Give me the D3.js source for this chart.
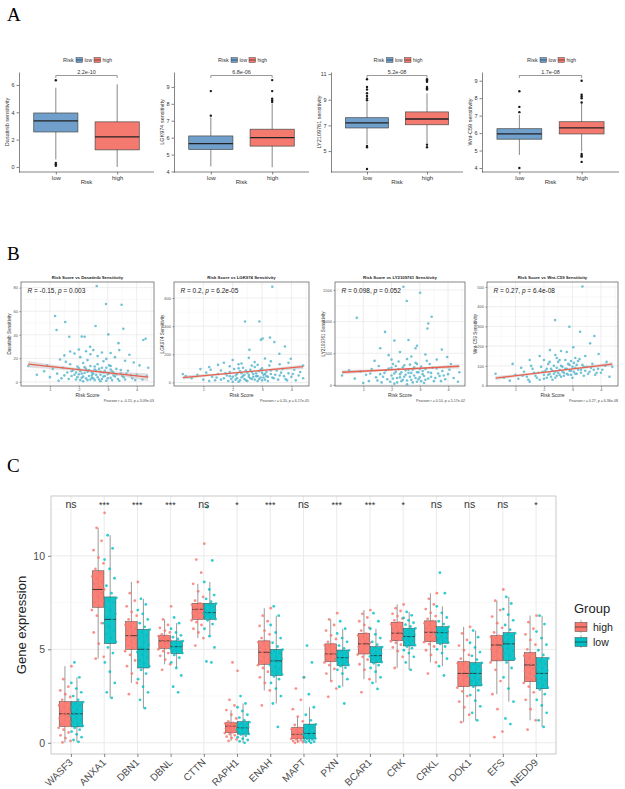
<!DOCTYPE html>
<html>
<head>
<meta charset="utf-8">
<script src="https://cdn.jsdelivr.net/npm/d3@7"></script>
<style>
  body { margin: 0; background: #fff; }
  text { font-family: "Liberation Sans", Arial, sans-serif; }
</style>
</head>
<body>
<div id="fig"></div>
<script>
// ---------- panel A : drug sensitivity by risk group ----------
var riskGroups = ["low", "high"];
var drugNames = ["Dasatinib", "LGK974", "LY2109761", "Wnt-C59"];
var pValuesA = ["2.2e-10", "6.8e-06", "5.2e-08", "1.7e-08"];
// [whiskerLow, q1, median, q3, whiskerHigh]
var lowStatsA = [[0.55, 2.56, 3.37, 3.95, 5.8], [4.3, 5.3, 5.65, 6.1, 7.2], [5.55, 6.8, 7.2, 7.6, 8.8], [4.75, 5.65, 5.95, 6.25, 7.05]];
var highStatsA = [[0, 1.25, 2.2, 3.3, 6.05], [4.25, 5.5, 6.0, 6.5, 8.0], [5.6, 7.05, 7.5, 8.05, 9.5], [4.95, 5.95, 6.3, 6.65, 7.7]];
var lowOutA = [[6.35, 0.3, 0.2, 0.08], [7.3, 8.75], [8.95, 9.1, 9.3, 9.5, 9.8, 10.0, 10.6, 5.4, 5.3, 3.6], [7.2, 7.5, 8.4, 4.0]];
var highOutA = [[], [8.1, 8.2, 8.3, 8.75, 9.4], [9.8, 9.9, 10.0, 10.4, 10.5, 10.6, 5.5, 5.3], [7.75, 8.0, 8.1, 8.2, 9.0, 4.8, 4.7, 4.65, 4.35]];
var yTicksA = [[0, 2, 4, 6], [4, 5, 6, 7, 8, 9], [5, 7, 9, 11], [4, 5, 6, 7, 8, 9]];
var yDomA = [[-0.37, 6.95], [3.97, 9.88], [3.37, 11.16], [3.77, 9.5]];

// ---------- panel B : risk score vs sensitivity ----------
var xTicksB = [1, 2, 3, 4];
var yTicksB = [[0, 20, 40, 60, 80], [0, 200, 400, 600], [0, 500, 1000, 1500], [0, 100, 200, 300, 400, 500]];
var yDomB = [[-3.5, 84.8], [-25, 714], [-17, 1626], [-2, 525]];
var corrLabelB = [["-0.15", "0.003"], ["0.2", "6.2e-05"], ["0.098", "0.052"], ["0.27", "6.4e-08"]];
var pearsonB = ["Pearson r = -0.15, p = 3.09e-03", "Pearson r = 0.20, p = 6.17e-05", "Pearson r = 0.10, p = 5.17e-02", "Pearson r = 0.27, p = 6.36e-08"];
// fitted value at left / right end of the data
var fitB = [[15, 4], [35, 112], [200, 295], [38, 109]];
// confidence band half width at left / middle / right
var ciB = [[2.8, 1.2, 3.2], [14, 6, 16], [32, 14, 36], [10, 4, 11]];

var scoreDasatinib = [[2.62,81.4],[2.94,66.1],[3.48,65.5],[1.18,55.9],[1.53,50.8],[1.23,44],[2.58,47.4],[3.54,45.1],[1.67,38.3],[2.1,38.5],[2.2,38.3],[3.02,40.3],[4.23,35.5],[4.31,36.6],[3.37,32.9],[2.39,29.8],
  [0.25,13.5],[0.9,14],[1.35,19],[1.5,22.5],[1.7,25.8],[1.85,24],[2.0,27.5],[2.05,21],[2.25,26],[2.4,23.5],[2.5,27],[2.65,22],[2.8,25],[2.95,19.5],[3.1,24.5],[3.25,21],[3.4,27],[3.6,18],[3.75,23],[3.9,16.5],[4.1,14],[4.4,12],
  [0.55,6],[0.8,9],[1.0,4],[1.1,11],[1.25,7],[1.4,3],[1.45,12],[1.6,8],[1.7,15],[1.75,5],[1.8,10],[1.9,2],[1.95,13],[2.0,6.5],[2.05,9],[2.1,3.5],[2.15,16],[2.2,7.5],[2.25,11],[2.3,1.5],[2.35,5],[2.4,13.5],[2.45,8],[2.5,3],[2.55,10.5],[2.6,6],[2.65,15],[2.7,2],[2.75,8.5],[2.8,12],[2.85,4.5],[2.9,9.5],[2.95,1],[3.0,6.5],[3.05,14],[3.1,3.5],[3.15,9],[3.2,5.5],[3.3,11],[3.35,2.5],[3.45,7],[3.55,4],[3.7,9.5],[3.85,3],[4.0,6],[4.2,2],[4.35,5],[1.55,17],[2.3,18.5],[2.85,17.5],
  [1.3,1],[1.5,5.5],[1.65,2.5],[1.75,9],[1.85,6],[1.95,4],[2.0,11.5],[2.05,1.5],[2.1,7],[2.15,4.5],[2.2,12.5],[2.25,3],[2.3,8.5],[2.35,10],[2.4,2],[2.45,5.5],[2.5,7],[2.55,1.5],[2.6,9.5],[2.65,4],[2.7,11],[2.75,6],[2.8,2.5],[2.85,8],[2.9,5],[2.95,12],[3.0,3],[3.05,7.5],[3.1,10.5],[3.15,1.5],[3.2,8],[3.25,4.5],[3.3,6.5],[3.4,1],[3.45,10],[3.5,5],[3.6,2],[3.65,7],[3.8,5.5],[3.95,1.5],[2.15,0.5],[2.55,13],[2.75,0.5],[3.1,13.5],[1.9,8],[2.45,3.5]];
var scoreLGK974 = [[3.35,680],[2.42,433],[2.91,433],[2.96,303],[3.02,312],[3.27,319],[3.42,287],[3.78,256],[2.57,232],[3.59,204],[3.98,169],[2.0,160],[2.55,175],[3.1,170],[1.7,140],[1.2,110],[0.9,95],[0.3,60],[4.3,75],[4.4,120],[4.1,90],[3.9,140],[3.6,130],[3.3,150],[2.75,145],[2.2,130],[1.9,115],[1.5,125],
  [0.6,30],[0.8,55],[1.0,20],[1.1,70],[1.3,40],[1.4,15],[1.5,60],[1.6,85],[1.7,30],[1.8,50],[1.85,10],[1.9,75],[2.0,40],[2.05,95],[2.1,20],[2.15,60],[2.2,5],[2.25,80],[2.3,35],[2.35,105],[2.4,55],[2.45,15],[2.5,70],[2.55,40],[2.6,90],[2.65,25],[2.7,60],[2.75,110],[2.8,45],[2.85,10],[2.9,80],[2.95,35],[3.0,100],[3.05,55],[3.1,20],[3.15,75],[3.2,40],[3.25,120],[3.3,60],[3.4,30],[3.5,85],[3.6,50],[3.7,95],[3.8,25],[3.9,65],[4.0,40],[4.15,15],[4.25,50],[4.4,30],[0.4,45],[1.25,90],[2.3,135],[2.85,125],
  [1.2,10],[1.45,35],[1.6,20],[1.75,65],[1.95,25],[2.0,5],[2.1,50],[2.15,30],[2.25,15],[2.3,65],[2.35,45],[2.4,25],[2.45,85],[2.5,10],[2.55,55],[2.6,30],[2.65,75],[2.7,40],[2.75,20],[2.8,65],[2.85,45],[2.9,25],[2.95,90],[3.0,15],[3.05,35],[3.1,60],[3.15,45],[3.2,10],[3.3,85],[3.35,35],[3.45,55],[3.55,20],[3.65,70],[3.75,45],[3.85,15],[4.05,60],[2.2,100],[2.65,120],[3.0,70],[1.9,45]];
var scoreLY2109761 = [[2.42,1552],[3.01,1457],[2.54,1325],[0.77,1060],[3.42,1076],[3.3,970],[3.27,892],[1.77,838],[2.1,700],[2.6,710],[2.9,620],[1.6,580],[2.85,580],[3.78,560],[3.97,440],[2.3,520],[1.9,470],[3.2,480],[2.7,450],[1.4,380],[3.6,400],[4.1,330],[0.5,230],[4.4,200],[0.25,150],
  [0.7,100],[0.9,210],[1.1,160],[1.2,60],[1.3,250],[1.45,120],[1.55,300],[1.65,40],[1.75,190],[1.85,90],[1.9,260],[2.0,150],[2.05,330],[2.1,20],[2.15,210],[2.2,110],[2.25,370],[2.3,170],[2.35,60],[2.4,280],[2.45,130],[2.5,230],[2.55,10],[2.6,190],[2.65,320],[2.7,80],[2.75,240],[2.8,150],[2.85,350],[2.9,50],[2.95,200],[3.0,120],[3.05,290],[3.1,170],[3.15,30],[3.2,250],[3.3,100],[3.35,330],[3.4,190],[3.5,60],[3.6,260],[3.7,140],[3.8,220],[3.9,90],[4.0,170],[4.2,110],[4.35,50],[1.0,30],[2.0,400],[2.55,410],[3.25,380],
  [1.25,180],[1.5,70],[1.7,130],[1.8,230],[1.95,50],[2.0,270],[2.05,100],[2.1,180],[2.2,40],[2.25,250],[2.3,120],[2.35,200],[2.4,80],[2.45,310],[2.5,160],[2.55,70],[2.6,240],[2.65,130],[2.7,190],[2.75,40],[2.8,280],[2.85,110],[2.9,200],[2.95,90],[3.0,250],[3.05,60],[3.1,220],[3.15,140],[3.2,80],[3.3,200],[3.4,130],[3.45,270],[3.55,110],[3.65,180],[3.75,60],[3.85,150],[4.05,240],[2.15,300],[2.9,330],[1.6,170]];
var scoreWntC59 = [[3.35,502],[2.39,332],[2.89,298],[3.27,273],[3.77,251],[3.62,214],[3.03,194],[2.21,180],[2.6,175],[3.92,160],[2.8,170],[1.85,150],[3.45,150],[1.5,130],[3.1,140],[4.2,120],[0.9,110],[0.3,60],[4.4,95],[2.4,155],
  [0.6,40],[0.8,25],[1.0,55],[1.1,35],[1.3,70],[1.4,45],[1.5,20],[1.6,85],[1.7,50],[1.8,65],[1.85,30],[1.9,95],[2.0,55],[2.05,75],[2.1,40],[2.15,110],[2.2,60],[2.25,85],[2.3,30],[2.35,100],[2.4,70],[2.45,50],[2.5,120],[2.55,80],[2.6,45],[2.65,95],[2.7,65],[2.75,130],[2.8,85],[2.85,55],[2.9,105],[2.95,75],[3.0,40],[3.05,115],[3.1,90],[3.15,60],[3.2,125],[3.3,80],[3.35,105],[3.4,50],[3.5,95],[3.6,70],[3.7,110],[3.8,55],[3.9,85],[4.0,65],[4.15,100],[4.3,45],[1.2,90],[2.0,130],[2.45,140],[3.25,135],
  [1.25,50],[1.45,30],[1.65,65],[1.75,40],[1.95,70],[2.0,35],[2.1,85],[2.15,55],[2.25,45],[2.3,75],[2.35,60],[2.4,40],[2.45,90],[2.5,65],[2.55,55],[2.6,100],[2.65,70],[2.7,50],[2.75,85],[2.8,60],[2.85,110],[2.9,75],[2.95,55],[3.0,95],[3.05,70],[3.1,60],[3.15,105],[3.2,80],[3.3,65],[3.4,95],[3.45,75],[3.55,60],[3.65,90],[3.75,80],[3.85,65],[4.05,80],[2.2,120],[2.55,130],[2.95,125],[1.55,100]];
var pointsB = [scoreDasatinib, scoreLGK974, scoreLY2109761, scoreWntC59];

// ---------- panel C : gene expression by group ----------
var genes = ["WASF3","ANXA1","DBN1","DBNL","CTTN","RAPH1","ENAH","MAPT","PXN","BCAR1","CRK","CRKL","DOK1","EFS","NEDD9"];
var sigLabels = ["ns","***","***","***","ns","*","***","ns","***","***","*","ns","ns","ns","*"];
var groupsC = ["high", "low"];
// [q1, median, q3]
var highQuart = [[0.87,1.55,2.2],[7.25,8.2,9.2],[5.0,5.73,6.48],[5.05,5.45,5.73],[6.6,7.14,7.46],[0.54,0.89,1.07],[4.2,4.84,5.45],[0.23,0.45,0.82],[4.34,4.75,5.29],[4.75,5.29,5.86],[5.46,5.86,6.45],[5.41,5.91,6.52],[3.0,3.71,4.34],[4.38,5.23,5.73],[3.27,4.16,4.82]];
var lowQuart = [[0.85,1.55,2.2],[5.3,6.6,7.8],[4.0,5.0,6.07],[4.77,5.14,5.45],[6.6,6.96,7.46],[0.46,0.8,1.13],[3.6,4.38,5.0],[0.21,0.5,1.0],[4.13,4.55,4.96],[4.29,4.66,5.14],[5.18,5.68,6.13],[5.32,5.89,6.21],[3.04,3.71,4.29],[4.39,5.29,5.89],[2.89,3.71,4.55]];
var highValues = [
  "0.02 0.1 0.25 0.4 0.55 0.7 0.8 0.9 1.0 1.1 1.2 1.3 1.4 1.5 1.55 1.6 1.7 1.8 1.9 2.0 2.15 2.3 2.45 2.6 2.8 3.0 3.4 4.1",
  "4.5 4.6 5.3 5.9 6.4 6.8 7.1 7.3 7.5 7.6 7.8 7.9 8.0 8.1 8.2 8.3 8.5 8.6 8.8 8.9 9.1 9.3 9.6 9.9 10.3 10.8 11.5 12.3",
  "2.6 3.2 3.7 4.1 4.4 4.7 4.9 5.05 5.2 5.3 5.4 5.5 5.6 5.7 5.8 5.9 6.0 6.1 6.2 6.3 6.45 6.6 6.8 7.0 7.3 7.6 8.0 8.6",
  "3.9 4.2 4.45 4.65 4.8 4.9 5.0 5.08 5.15 5.2 5.25 5.3 5.35 5.4 5.45 5.5 5.55 5.6 5.65 5.7 5.72 5.8 5.9 6.0 6.15 6.3 6.6 7.3",
  "5.2 5.6 5.9 6.1 6.3 6.45 6.55 6.65 6.75 6.85 6.9 6.95 7.0 7.05 7.1 7.15 7.2 7.25 7.3 7.38 7.45 7.6 7.8 8.1 8.5 9.1 9.8 10.65",
  "0.1 0.18 0.26 0.33 0.4 0.46 0.52 0.56 0.62 0.68 0.72 0.76 0.8 0.85 0.89 0.92 0.95 0.98 1.0 1.03 1.06 1.15 1.3 1.5 1.75 2.0 2.3 3.85 4.3",
  "2.0 2.8 3.2 3.5 3.8 4.0 4.15 4.25 4.35 4.45 4.55 4.65 4.75 4.84 4.9 5.0 5.1 5.2 5.3 5.38 5.44 5.6 5.8 6.0 6.25 6.5 6.8 7.2",
  "0 0.03 0.07 0.1 0.14 0.18 0.21 0.25 0.28 0.31 0.34 0.37 0.4 0.43 0.46 0.5 0.55 0.6 0.66 0.72 0.8 0.95 1.15 1.4 1.8 2.3 2.9 3.5",
  "2.46 2.9 3.3 3.7 3.95 4.15 4.3 4.38 4.45 4.52 4.6 4.66 4.72 4.76 4.82 4.9 4.98 5.06 5.14 5.22 5.28 5.4 5.55 5.75 6.0 6.3 6.6 6.93",
  "2.7 3.4 3.9 4.2 4.45 4.6 4.72 4.8 4.88 4.96 5.04 5.12 5.2 5.29 5.35 5.42 5.5 5.58 5.66 5.75 5.84 6.0 6.15 6.3 6.5 6.7 6.9 7.1",
  "4.0 4.6 4.9 5.1 5.25 5.35 5.43 5.5 5.56 5.62 5.68 5.74 5.8 5.86 5.92 6.0 6.08 6.16 6.25 6.34 6.43 6.55 6.65 6.78 6.9 7.05 7.2 7.4",
  "3.7 4.3 4.7 4.95 5.15 5.28 5.38 5.45 5.52 5.6 5.68 5.76 5.84 5.91 5.98 6.06 6.14 6.22 6.3 6.4 6.5 6.62 6.78 6.95 7.15 7.4 7.7 8.0",
  "1.1 1.5 1.9 2.2 2.5 2.75 2.95 3.05 3.15 3.25 3.35 3.45 3.55 3.65 3.75 3.85 3.95 4.05 4.15 4.25 4.32 4.5 4.7 4.95 5.2 5.5 5.85 6.2",
  "0.3 0.6 1.8 2.6 3.3 3.9 4.3 4.45 4.6 4.75 4.88 5.0 5.1 5.2 5.28 5.36 5.44 5.52 5.6 5.66 5.72 5.9 6.15 6.4 6.75 7.1 7.6 8.2",
  "0.7 1.2 1.8 2.3 2.7 3.0 3.2 3.35 3.48 3.6 3.72 3.84 3.96 4.08 4.16 4.24 4.34 4.44 4.54 4.66 4.8 5.0 5.25 5.5 5.8 6.1 6.45 6.8"
];
var lowValues = [
  "0.05 0.15 0.3 0.45 0.6 0.7 0.8 0.9 1.0 1.1 1.2 1.35 1.45 1.55 1.6 1.7 1.8 1.9 2.0 2.1 2.18 2.3 2.5 2.7 2.9 3.2 3.5 4.3",
  "2.4 2.7 3.2 3.8 4.3 4.8 5.1 5.4 5.6 5.8 6.0 6.2 6.4 6.6 6.7 6.9 7.1 7.3 7.5 7.6 7.75 8.0 8.4 8.8 9.3 9.8 10.4 11.1",
  "1.85 2.3 2.7 3.0 3.4 3.7 3.9 4.1 4.25 4.4 4.55 4.7 4.85 5.0 5.1 5.25 5.4 5.6 5.75 5.9 6.05 6.2 6.4 6.6 6.9 7.1 7.4 7.7",
  "2.7 3.0 3.6 4.0 4.3 4.55 4.7 4.8 4.85 4.9 4.95 5.0 5.05 5.1 5.15 5.2 5.25 5.3 5.35 5.4 5.44 5.55 5.65 5.75 5.9 6.1 6.4 6.7",
  "4.3 4.35 5.1 5.7 6.1 6.35 6.55 6.62 6.7 6.78 6.82 6.88 6.92 6.96 7.0 7.08 7.15 7.22 7.3 7.38 7.44 7.55 7.7 7.9 8.2 8.6 9.75 12.6",
  "0 0.08 0.15 0.22 0.3 0.38 0.44 0.48 0.53 0.58 0.63 0.68 0.72 0.77 0.8 0.84 0.88 0.93 0.98 1.04 1.1 1.2 1.35 1.5 1.7 1.9 2.1 2.5",
  "0.85 2.1 2.5 2.9 3.2 3.4 3.55 3.65 3.75 3.85 3.95 4.05 4.15 4.3 4.4 4.5 4.6 4.7 4.8 4.9 4.98 5.15 5.35 5.6 5.9 6.3 6.8 7.3",
  "0 0.03 0.06 0.1 0.13 0.17 0.2 0.23 0.27 0.31 0.35 0.4 0.45 0.5 0.55 0.6 0.67 0.75 0.82 0.9 0.98 1.2 1.5 1.9 2.6 3.5 4.3 5.2",
  "2.1 3.0 3.4 3.7 3.9 4.02 4.1 4.16 4.22 4.28 4.34 4.4 4.46 4.52 4.56 4.62 4.68 4.74 4.8 4.87 4.94 5.05 5.2 5.4 5.6 5.85 6.1 6.5",
  "2.88 3.2 3.5 3.8 4.0 4.15 4.25 4.32 4.38 4.44 4.5 4.56 4.62 4.66 4.72 4.78 4.84 4.92 5.0 5.06 5.12 5.25 5.4 5.6 5.8 6.1 6.5 6.93",
  "3.9 4.3 4.6 4.8 4.95 5.06 5.15 5.22 5.28 5.34 5.42 5.5 5.58 5.66 5.72 5.78 5.84 5.9 5.98 6.05 6.12 6.22 6.32 6.42 6.55 6.68 6.82 7.0",
  "3.6 4.1 4.5 4.8 5.0 5.15 5.28 5.36 5.45 5.54 5.62 5.7 5.78 5.86 5.9 5.95 6.0 6.05 6.1 6.15 6.2 6.35 6.5 6.7 6.95 7.3 8.0 9.1",
  "1.2 1.6 1.95 2.25 2.55 2.8 3.0 3.1 3.2 3.3 3.4 3.5 3.6 3.7 3.78 3.86 3.94 4.02 4.1 4.18 4.27 4.45 4.65 4.85 5.1 5.35 5.65 6.0",
  "1.0 1.3 2.2 2.9 3.5 4.0 4.3 4.5 4.65 4.8 4.92 5.04 5.16 5.29 5.38 5.46 5.54 5.62 5.7 5.78 5.86 6.05 6.3 6.55 6.85 7.15 7.45 7.8",
  "0.85 1.2 1.6 2.0 2.3 2.6 2.85 2.95 3.08 3.2 3.32 3.44 3.56 3.68 3.76 3.86 3.98 4.1 4.22 4.36 4.52 4.7 4.95 5.25 5.6 5.95 6.35 6.8"
];

var svg = d3.select("#fig").append("svg")
    .attr("width", 625)
    .attr("height", 789);

var intFmt = d3.format("d");

function styleAxis(sel, fs, col, textCol) {
    sel.selectAll("path, line").attr("stroke", col).attr("stroke-width", 0.6);
    sel.selectAll("text").attr("font-size", fs).attr("fill", textCol || col);
}

// panel letters
[["A", 21], ["B", 260], ["C", 472]].forEach(function (p) {
    svg.append("text").attr("x", 7).attr("y", p[1])
        .style("font-family", "'Liberation Serif', 'DejaVu Serif', serif")
        .attr("font-size", 19).text(p[0]);
});

// ================= PANEL A =================
var riskColor = { low: "#6f9fca", high: "#f47a6f" };
var aLeft = [19, 174, 331, 482], aRight = [154, 309, 463, 619];
var aTop = 72, aBot = 172;

drugNames.forEach(function (drug, i) {
    var g = svg.append("g");
    var x = d3.scalePoint().domain(riskGroups).range([aLeft[i], aRight[i]]).padding(0.6);
    var y = d3.scaleLinear().domain(yDomA[i]).range([aBot, aTop]);
    var bw = x.step() * 0.72;
    var stats = [lowStatsA[i], highStatsA[i]];
    var outs = [lowOutA[i], highOutA[i]];

    riskGroups.forEach(function (grp, j) {
        var s = stats[j], cx = x(grp);
        g.append("line").attr("x1", cx).attr("x2", cx)
            .attr("y1", y(s[0])).attr("y2", y(s[4]))
            .attr("stroke", "#555").attr("stroke-width", 0.7);
        g.append("rect").attr("x", cx - bw / 2).attr("width", bw)
            .attr("y", y(s[3])).attr("height", y(s[1]) - y(s[3]))
            .attr("fill", riskColor[grp]).attr("stroke", "#4a4a4a").attr("stroke-width", 0.7);
        g.append("line").attr("x1", cx - bw / 2).attr("x2", cx + bw / 2)
            .attr("y1", y(s[2])).attr("y2", y(s[2]))
            .attr("stroke", "#222").attr("stroke-width", 1.3);
        g.selectAll(null).data(outs[j]).join("circle")
            .attr("cx", cx).attr("cy", function (d) { return y(d); })
            .attr("r", 1.2).attr("fill", "#1a1a1a");
    });

    var ya = g.append("g").attr("transform", "translate(" + aLeft[i] + ",0)")
        .call(d3.axisLeft(y).tickValues(yTicksA[i]).tickFormat(intFmt).tickSize(2.5).tickSizeOuter(0).tickPadding(2));
    styleAxis(ya, 5.5, "#333");
    var xa = g.append("g").attr("transform", "translate(0," + aBot + ")")
        .call(d3.axisBottom(x).tickSize(2.5).tickSizeOuter(0).tickPadding(1.5));
    xa.select(".domain").attr("d", "M" + aLeft[i] + ",0H" + aRight[i]);
    styleAxis(xa, 6, "#333");

    var cxm = (aLeft[i] + aRight[i]) / 2;
    g.append("text").attr("x", cxm).attr("y", 184).attr("text-anchor", "middle")
        .attr("font-size", 6).attr("fill", "#333").text("Risk");
    g.append("text").attr("transform", "translate(" + (aLeft[i] - 10) + "," + ((aTop + aBot) / 2) + ") rotate(-90)")
        .attr("text-anchor", "middle").attr("font-size", 5.5).attr("fill", "#333")
        .text(drug + " sensitivity");

    // comparison bracket
    var by = 75.5;
    g.append("path")
        .attr("d", "M" + x("low") + "," + (by + 2.5) + "V" + by + "H" + x("high") + "V" + (by + 2.5))
        .attr("fill", "none").attr("stroke", "#555").attr("stroke-width", 0.6);
    g.append("text").attr("x", (x("low") + x("high")) / 2).attr("y", by - 1.5)
        .attr("text-anchor", "middle").attr("font-size", 5.5).attr("fill", "#333").text(pValuesA[i]);

    // legend
    var ly = 60;
    g.append("text").attr("x", cxm - 23.5).attr("y", ly + 2).attr("font-size", 5.5).attr("fill", "#333").text("Risk");
    riskGroups.forEach(function (grp, j) {
        var kx = cxm + (j === 0 ? -10.5 : 7.5);
        g.append("rect").attr("x", kx).attr("y", ly - 2.5).attr("width", 6.5).attr("height", 5)
            .attr("fill", riskColor[grp]).attr("stroke", "#4a4a4a").attr("stroke-width", 0.5);
        g.append("line").attr("x1", kx).attr("x2", kx + 6.5).attr("y1", ly).attr("y2", ly)
            .attr("stroke", "#222").attr("stroke-width", 0.6);
        g.append("text").attr("x", kx + 8.5).attr("y", ly + 2).attr("font-size", 5)
            .attr("fill", "#333").text(grp);
    });
});

// ================= PANEL B =================
var bLeft = [21, 174, 335, 487], bRight = [154, 309, 465, 618];
var bTop = 282, bBot = 386;

drugNames.forEach(function (drug, i) {
    var g = svg.append("g");
    var x = d3.scaleLinear().domain([0, 4.6]).range([bLeft[i], bRight[i]]);
    var y = d3.scaleLinear().domain(yDomB[i]).range([bBot, bTop]);
    var yt = yTicksB[i];

    // minor + major grid
    var step = yt[1] - yt[0];
    var minorY = yt.map(function (t) { return t + step / 2; }).filter(function (t) { return t < yDomB[i][1]; });
    var minorX = [0.5, 1.5, 2.5, 3.5, 4.5];
    g.selectAll(null).data(minorY).join("line")
        .attr("x1", bLeft[i]).attr("x2", bRight[i]).attr("y1", y).attr("y2", y)
        .attr("stroke", "#f0f0f0").attr("stroke-width", 0.4);
    g.selectAll(null).data(minorX).join("line")
        .attr("y1", bTop).attr("y2", bBot).attr("x1", x).attr("x2", x)
        .attr("stroke", "#f0f0f0").attr("stroke-width", 0.4);
    g.selectAll(null).data(yt).join("line")
        .attr("x1", bLeft[i]).attr("x2", bRight[i]).attr("y1", y).attr("y2", y)
        .attr("stroke", "#e2e2e2").attr("stroke-width", 0.6);
    g.selectAll(null).data(xTicksB).join("line")
        .attr("y1", bTop).attr("y2", bBot).attr("x1", x).attr("x2", x)
        .attr("stroke", "#e2e2e2").attr("stroke-width", 0.6);

    // points
    g.selectAll(null).data(pointsB[i]).join("circle")
        .attr("cx", function (d) { return x(d[0]); })
        .attr("cy", function (d) { return y(d[1]); })
        .attr("r", 1.3).attr("fill", "#45aec8").attr("fill-opacity", 0.75);

    // fit with confidence band
    var ext = d3.extent(pointsB[i], function (d) { return d[0]; });
    var xm = (ext[0] + ext[1]) / 2;
    var f = fitB[i], c = ciB[i];
    var fm = (f[0] + f[1]) / 2;
    var band = [[ext[0], f[0], c[0]], [xm, fm, c[1]], [ext[1], f[1], c[2]]];
    g.append("path").datum(band)
        .attr("d", d3.area().curve(d3.curveNatural)
            .x(function (d) { return x(d[0]); })
            .y0(function (d) { return y(d[1] - d[2]); })
            .y1(function (d) { return y(d[1] + d[2]); }))
        .attr("fill", "#b5b5b5").attr("fill-opacity", 0.45);
    g.append("line")
        .attr("x1", x(ext[0])).attr("y1", y(f[0]))
        .attr("x2", x(ext[1])).attr("y2", y(f[1]))
        .attr("stroke", "#e8604f").attr("stroke-width", 1.3);

    // frame
    g.append("rect").attr("x", bLeft[i]).attr("y", bTop)
        .attr("width", bRight[i] - bLeft[i]).attr("height", bBot - bTop)
        .attr("fill", "none").attr("stroke", "#555").attr("stroke-width", 0.7);

    var ya = g.append("g").attr("transform", "translate(" + bLeft[i] + ",0)")
        .call(d3.axisLeft(y).tickValues(yt).tickFormat(intFmt).tickSize(1.5).tickSizeOuter(0).tickPadding(1.5));
    ya.select(".domain").remove();
    styleAxis(ya, 4, "#555");
    var xa = g.append("g").attr("transform", "translate(0," + bBot + ")")
        .call(d3.axisBottom(x).tickValues(xTicksB).tickFormat(intFmt).tickSize(1.5).tickSizeOuter(0).tickPadding(1));
    xa.select(".domain").remove();
    styleAxis(xa, 4, "#555");

    var cxm = (bLeft[i] + bRight[i]) / 2;
    g.append("text").attr("x", cxm).attr("y", bTop - 3.5).attr("text-anchor", "middle")
        .attr("font-size", 4.3).attr("font-weight", "bold").attr("fill", "#222")
        .text("Risk Score vs " + drug + " Sensitivity");
    g.append("text").attr("x", cxm).attr("y", 397).attr("text-anchor", "middle")
        .attr("font-size", 5).attr("fill", "#333").text("Risk Score");
    g.append("text").attr("transform", "translate(" + (bLeft[i] - 10) + "," + ((bTop + bBot) / 2) + ") rotate(-90)")
        .attr("text-anchor", "middle").attr("font-size", 4.6).attr("fill", "#333")
        .text(drug + " Sensitivity");
    g.append("text").attr("x", bRight[i]).attr("y", 402).attr("text-anchor", "end")
        .attr("font-size", 3.6).attr("fill", "#444").text(pearsonB[i]);

    var rt = g.append("text").attr("x", bLeft[i] + 6.5).attr("y", bTop + 10.5)
        .attr("font-size", 6.5).attr("fill", "#222");
    rt.append("tspan").attr("font-style", "italic").text("R");
    rt.append("tspan").text(" = " + corrLabelB[i][0] + ", ");
    rt.append("tspan").attr("font-style", "italic").text("p");
    rt.append("tspan").text(" = " + corrLabelB[i][1]);
});

// ================= PANEL C =================
var colorC = { high: "#F8766D", low: "#00BFC4" };
var cLeft = 51, cRight = 556, cTop = 496, cBot = 754;
var xC = d3.scalePoint().domain(genes).range([cLeft, cRight]).padding(0.6);
var yC = d3.scaleLinear().domain([-0.6, 13.2]).range([cBot, cTop]);
var gC = svg.append("g");

// grid
[2.5, 7.5, 12.5].forEach(function (v) {
    gC.append("line").attr("x1", cLeft).attr("x2", cRight).attr("y1", yC(v)).attr("y2", yC(v))
        .attr("stroke", "#f3f3f3").attr("stroke-width", 0.5);
});
[0, 5, 10].forEach(function (v) {
    gC.append("line").attr("x1", cLeft).attr("x2", cRight).attr("y1", yC(v)).attr("y2", yC(v))
        .attr("stroke", "#e8e8e8").attr("stroke-width", 0.9);
});
gC.selectAll(null).data(genes).join("line")
    .attr("x1", xC).attr("x2", xC).attr("y1", cTop).attr("y2", cBot)
    .attr("stroke", "#e8e8e8").attr("stroke-width", 0.9);

var dodge = 6, boxW = 11.5, jitterW = 13;
genes.forEach(function (gene, i) {
    groupsC.forEach(function (grp, j) {
        var vals = (j === 0 ? highValues[i] : lowValues[i]).split(" ").map(Number);
        var q = j === 0 ? highQuart[i] : lowQuart[i];
        var cx = xC(gene) + (j === 0 ? -dodge : dodge);
        var iqr = q[2] - q[0];
        var wLo = d3.min(vals.filter(function (v) { return v >= q[0] - 1.5 * iqr; }));
        var wHi = d3.max(vals.filter(function (v) { return v <= q[2] + 1.5 * iqr; }));

        gC.append("line").attr("x1", cx).attr("x2", cx).attr("y1", yC(wLo)).attr("y2", yC(wHi))
            .attr("stroke", "#555").attr("stroke-width", 0.6);
        gC.append("rect").attr("x", cx - boxW / 2).attr("width", boxW)
            .attr("y", yC(q[2])).attr("height", yC(q[0]) - yC(q[2]))
            .attr("fill", colorC[grp]).attr("fill-opacity", 0.92)
            .attr("stroke", "#444").attr("stroke-width", 0.5);
        gC.append("line").attr("x1", cx - boxW / 2).attr("x2", cx + boxW / 2)
            .attr("y1", yC(q[1])).attr("y2", yC(q[1]))
            .attr("stroke", "#222").attr("stroke-width", 0.8);

        // jittered points on top
        gC.selectAll(null).data(vals).join("circle")
            .attr("cx", function (d, k) { return cx + (((k * 0.618034 + 0.31 * (j + 1)) % 1) - 0.5) * jitterW; })
            .attr("cy", function (d) { return yC(d); })
            .attr("r", 1.4).attr("fill", colorC[grp]).attr("fill-opacity", 0.8);
    });
    gC.append("text").attr("x", xC(gene)).attr("y", yC(12.75) + 4)
        .attr("text-anchor", "middle").attr("font-size", sigLabels[i] === "ns" ? 10.5 : 9)
        .attr("fill", "#333").text(sigLabels[i]);
});

// frame
gC.append("rect").attr("x", cLeft).attr("y", cTop).attr("width", cRight - cLeft).attr("height", cBot - cTop)
    .attr("fill", "none").attr("stroke", "#c4c4c4").attr("stroke-width", 0.9);

var yaC = gC.append("g").attr("transform", "translate(" + cLeft + ",0)")
    .call(d3.axisLeft(yC).tickValues([0, 5, 10]).tickSize(3).tickSizeOuter(0).tickPadding(3));
yaC.select(".domain").remove();
styleAxis(yaC, 10.5, "#333", "#4d4d4d");
var xaC = gC.append("g").attr("transform", "translate(0," + cBot + ")")
    .call(d3.axisBottom(xC).tickSize(3).tickSizeOuter(0));
xaC.select(".domain").remove();
styleAxis(xaC, 10, "#333", "#4d4d4d");
xaC.selectAll("text")
    .attr("text-anchor", "end").attr("dy", 0).attr("y", 0)
    .attr("transform", "translate(2,9) rotate(-45)");

gC.append("text").attr("transform", "translate(26," + ((cTop + cBot) / 2) + ") rotate(-90)")
    .attr("text-anchor", "middle").attr("font-size", 13).attr("fill", "#222").text("Gene expression");

// legend
gC.append("text").attr("x", 574).attr("y", 613).attr("font-size", 13).attr("fill", "#222").text("Group");
groupsC.forEach(function (grp, j) {
    var ky = 621 + j * 15;
    gC.append("line").attr("x1", 581).attr("x2", 581).attr("y1", ky - 1).attr("y2", ky + 12)
        .attr("stroke", "#555").attr("stroke-width", 0.5);
    gC.append("rect").attr("x", 575).attr("y", ky + 1.5).attr("width", 12).attr("height", 9)
        .attr("fill", colorC[grp]).attr("stroke", "#444").attr("stroke-width", 0.5);
    gC.append("line").attr("x1", 575).attr("x2", 587).attr("y1", ky + 6).attr("y2", ky + 6)
        .attr("stroke", "#222").attr("stroke-width", 0.6);
    gC.append("text").attr("x", 593).attr("y", ky + 9.5).attr("font-size", 10.5).attr("fill", "#222").text(grp);
});
</script>
</body>
</html>
